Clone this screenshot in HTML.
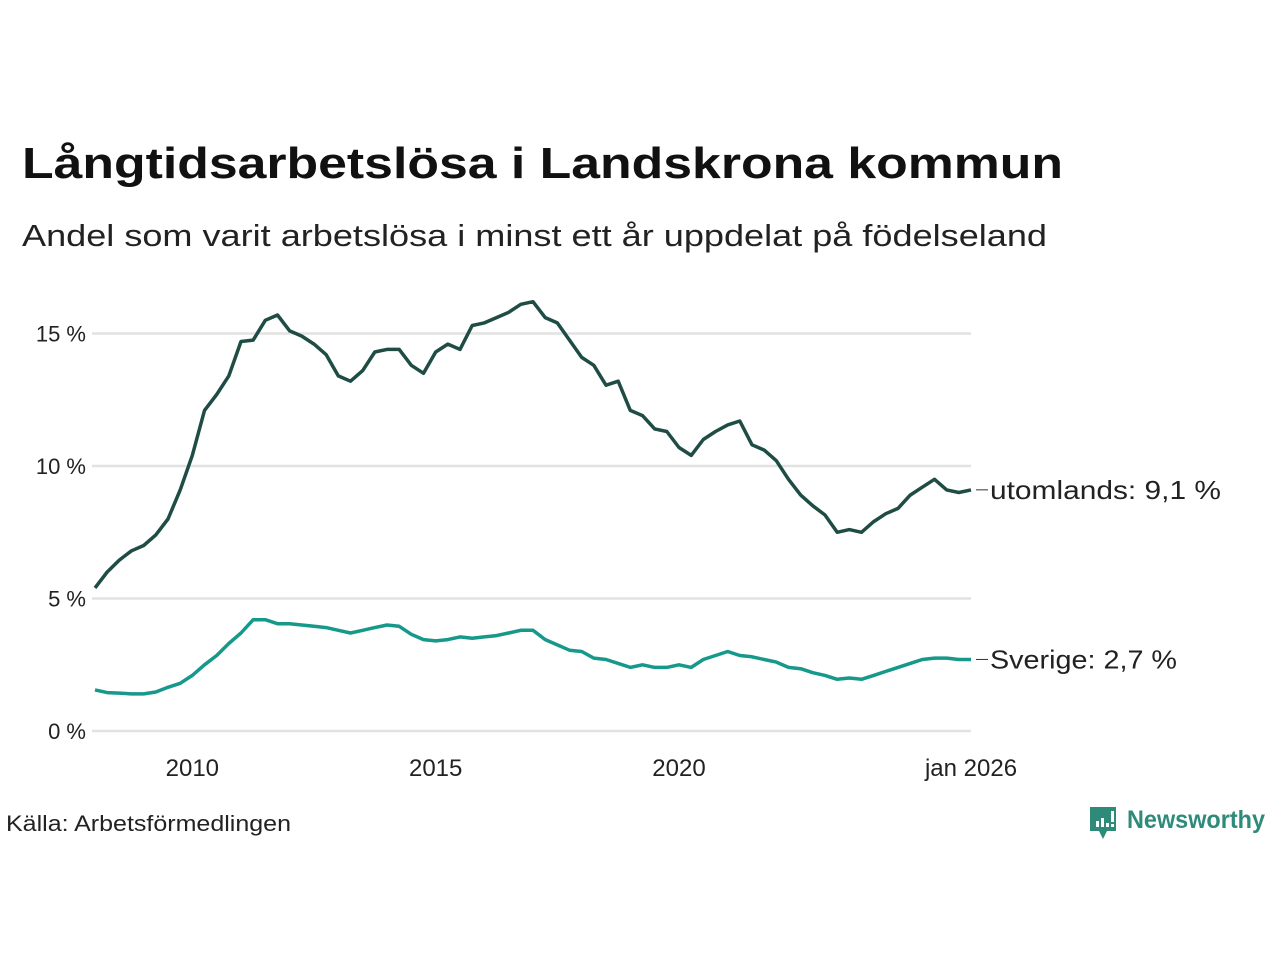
<!DOCTYPE html>
<html><head><meta charset="utf-8"><style>
html,body{margin:0;padding:0;background:#fff;width:1280px;height:960px;overflow:hidden}
text{font-family:"Liberation Sans",sans-serif}
</style></head><body>
<svg id="chart" width="1280" height="960" xmlns="http://www.w3.org/2000/svg">
<text x="22" y="178" font-size="44" font-weight="bold" fill="#111" textLength="1041" lengthAdjust="spacingAndGlyphs">Långtidsarbetslösa i Landskrona kommun</text>
<text x="22" y="246" font-size="31" fill="#222" textLength="1025" lengthAdjust="spacingAndGlyphs">Andel som varit arbetslösa i minst ett år uppdelat på födelseland</text>
<g id="grid"></g>
<g id="yticks"></g>
<g id="xticks"></g>
<g id="series"></g>
<text x="6" y="831" font-size="22" fill="#222" textLength="285" lengthAdjust="spacingAndGlyphs">Källa: Arbetsförmedlingen</text>
<g>
<path d="M1090 807 h26 v24 h-9 l-4 8 l-4 -8 h-9 z" fill="#2e8b7a"/>
<rect x="1096" y="821" width="3" height="6" fill="#fff"/><rect x="1101" y="818" width="3" height="9" fill="#fff"/><rect x="1106" y="823" width="3" height="4" fill="#fff"/><rect x="1111" y="811" width="3" height="11" fill="#fff"/><rect x="1111" y="824" width="3" height="3" fill="#fff"/>
<text x="1127" y="828" font-size="25" font-weight="bold" fill="#2e8b7a" textLength="138" lengthAdjust="spacingAndGlyphs">Newsworthy</text>
</g>
</svg>
<script>
const dates=[2008,2008.25,2008.5,2008.75,2009,2009.25,2009.5,2009.75,2010,2010.25,2010.5,2010.75,2011,2011.25,2011.5,2011.75,2012,2012.25,2012.5,2012.75,2013,2013.25,2013.5,2013.75,2014,2014.25,2014.5,2014.75,2015,2015.25,2015.5,2015.75,2016,2016.25,2016.5,2016.75,2017,2017.25,2017.5,2017.75,2018,2018.25,2018.5,2018.75,2019,2019.25,2019.5,2019.75,2020,2020.25,2020.5,2020.75,2021,2021.25,2021.5,2021.75,2022,2022.25,2022.5,2022.75,2023,2023.25,2023.5,2023.75,2024,2024.25,2024.5,2024.75,2025,2025.25,2025.5,2025.75,2026];
const utomlands=[5.4,6.0,6.45,6.8,7.0,7.4,8.0,9.1,10.4,12.1,12.7,13.4,14.7,14.75,15.5,15.7,15.1,14.9,14.6,14.2,13.4,13.2,13.6,14.3,14.4,14.4,13.8,13.5,14.3,14.6,14.4,15.3,15.4,15.6,15.8,16.1,16.2,15.6,15.4,14.75,14.1,13.8,13.05,13.2,12.1,11.9,11.4,11.3,10.7,10.4,11.0,11.3,11.55,11.7,10.8,10.6,10.2,9.5,8.9,8.5,8.15,7.5,7.6,7.5,7.9,8.2,8.4,8.9,9.2,9.5,9.1,9.0,9.1];
const sverige=[1.55,1.45,1.43,1.4,1.4,1.47,1.65,1.8,2.1,2.5,2.85,3.3,3.7,4.2,4.2,4.05,4.05,4.0,3.95,3.9,3.8,3.7,3.8,3.9,4.0,3.95,3.65,3.45,3.4,3.45,3.55,3.5,3.55,3.6,3.7,3.8,3.8,3.45,3.25,3.05,3.0,2.75,2.7,2.55,2.4,2.5,2.4,2.4,2.5,2.4,2.7,2.85,3.0,2.85,2.8,2.7,2.6,2.4,2.35,2.2,2.1,1.95,2.0,1.95,2.1,2.25,2.4,2.55,2.7,2.75,2.75,2.7,2.7];
const yTicks=[0,5,10,15];
const yTickLabels=["0 %","5 %","10 %","15 %"];
const xTicks=[2010,2015,2020,2026];
const xTickLabels=["2010","2015","2020","jan 2026"];
const seriesNames=["utomlands","Sverige"];
const lastLabels=["utomlands: 9,1 %","Sverige: 2,7 %"];

const NS="http://www.w3.org/2000/svg";
const X0=95,X1=971,Y0=731,PX=26.5;
const x=d=>X0+(d-2008)/(2026-2008)*(X1-X0);
const y=v=>Y0-v*PX;
function mk(tag,attrs,parent,txt){const e=document.createElementNS(NS,tag);for(const k in attrs)e.setAttribute(k,attrs[k]);if(txt!==undefined)e.textContent=txt;parent.appendChild(e);return e;}
const grid=document.getElementById('grid'),yt=document.getElementById('yticks'),xt=document.getElementById('xticks'),sg=document.getElementById('series');
yTicks.forEach((t,i)=>{
  const l=mk('line',{x1:92,x2:971,y1:y(t),y2:y(t),stroke:'#e2e2e2','stroke-width':2.5},grid);
  
  
  const tx=mk('text',{x:86,y:y(t)+8,'font-size':22,fill:'#222','text-anchor':'end'},yt,yTickLabels[i]);
  
  
});
xTicks.forEach((t,i)=>{
  const tx=mk('text',{x:x(t),y:776,'font-size':24,fill:'#222','text-anchor':'middle'},xt,xTickLabels[i]);
  
  
});
const colors=['#1f4d45','#16998a'];
const labelLens=[231,187];
[utomlands,sverige].forEach((vals,si)=>{
  const d=vals.map((v,i)=>(i?'L':'M')+x(dates[i]).toFixed(1)+' '+y(v).toFixed(1)).join(' ');
  const p=mk('path',{d:d,fill:'none',stroke:colors[si],'stroke-width':3.5,'stroke-linejoin':'round'},sg);
  
  
  const last=vals[vals.length-1],lx=x(dates[dates.length-1]);
  mk('line',{x1:lx+5,x2:lx+17,y1:y(last),y2:y(last),stroke:'#333','stroke-width':1},sg);
  const t=mk('text',{x:lx+19,y:y(last)+9,'font-size':26,fill:'#222',textLength:labelLens[si],lengthAdjust:'spacingAndGlyphs'},sg,lastLabels[si]);
  
  
});
</script>
</body></html>
